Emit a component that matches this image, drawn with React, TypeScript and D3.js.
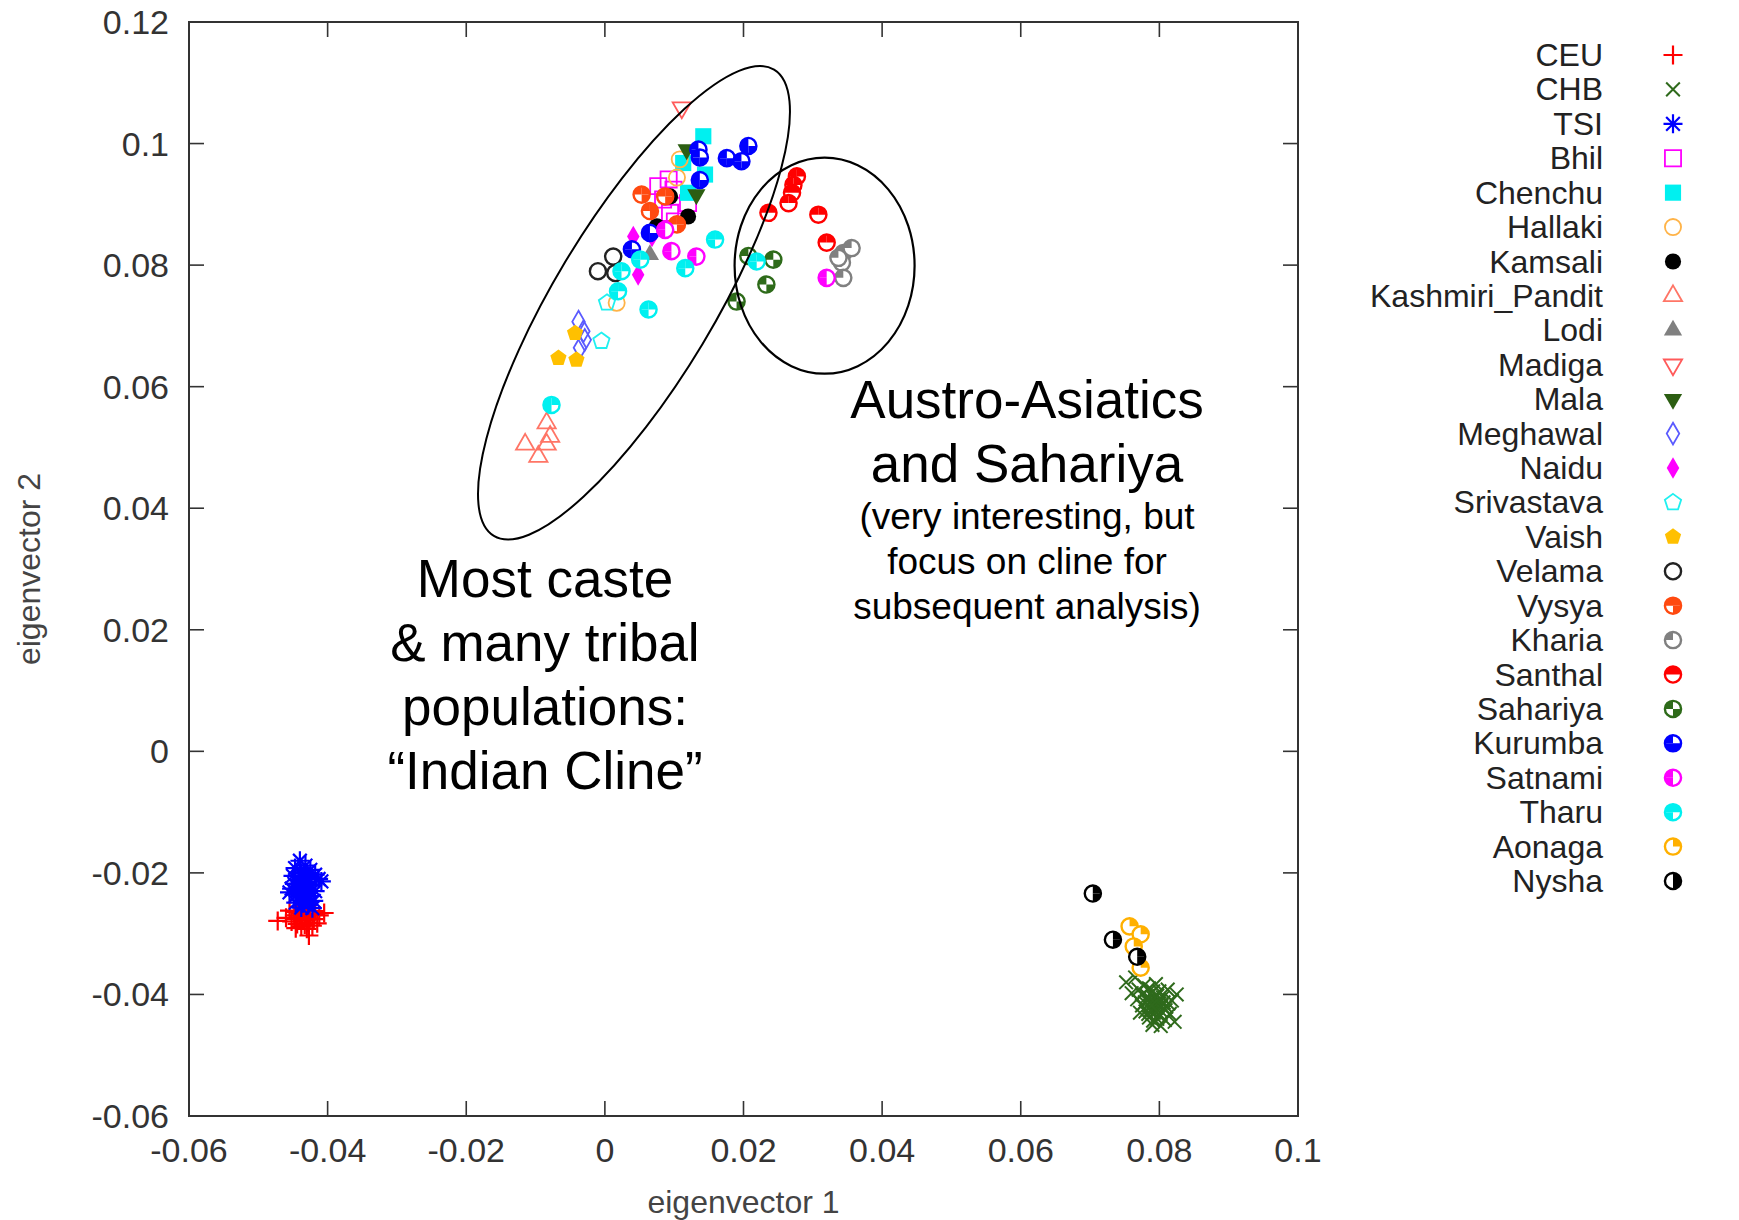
import { useMemo } from 'react';
import * as d3 from 'd3';

type Pt = [number, number];

// axis ticks
const X_TICKS = [-0.06, -0.04, -0.02, 0, 0.02, 0.04, 0.06, 0.08, 0.1];
const Y_TICKS = [-0.06, -0.04, -0.02, 0, 0.02, 0.04, 0.06, 0.08, 0.1, 0.12];

// population samples (eigenvector 1, eigenvector 2)
const ceu: Pt[] = [
  [-0.0472, -0.0279], [-0.0455, -0.0262], [-0.0448, -0.027], [-0.044, -0.0266], [-0.0432, -0.0272],
  [-0.0425, -0.0268], [-0.0418, -0.0263], [-0.0452, -0.028], [-0.0444, -0.0284], [-0.0436, -0.0278],
  [-0.0428, -0.0282], [-0.042, -0.0276], [-0.0412, -0.027], [-0.0446, -0.0291], [-0.0438, -0.0288],
  [-0.043, -0.0292], [-0.0422, -0.0287], [-0.0427, -0.0303], [-0.046, -0.0274], [-0.0415, -0.0283],
  [-0.0434, -0.026], [-0.0442, -0.0256], [-0.0405, -0.0266], [-0.0448, -0.0276], [-0.0433, -0.0285],
  [-0.0441, -0.0273], [-0.0426, -0.0275], [-0.0437, -0.0269], [-0.0419, -0.0269], [-0.0445, -0.0264],
];
const chb: Pt[] = [
  [0.0752, -0.038], [0.0765, -0.0372], [0.0778, -0.0385], [0.077, -0.0392], [0.0785, -0.039],
  [0.0795, -0.0383], [0.076, -0.0398], [0.0775, -0.04], [0.0788, -0.0398], [0.08, -0.0395],
  [0.0812, -0.0392], [0.0768, -0.0408], [0.0782, -0.041], [0.0792, -0.0406], [0.0805, -0.0405],
  [0.0818, -0.041], [0.0775, -0.0418], [0.0786, -0.042], [0.0798, -0.0416], [0.081, -0.042],
  [0.078, -0.0428], [0.0792, -0.043], [0.0803, -0.0428], [0.0815, -0.0432], [0.0785, -0.0438],
  [0.0797, -0.044], [0.0808, -0.0442], [0.079, -0.045], [0.0802, -0.0452], [0.0822, -0.0445],
  [0.0772, -0.043], [0.0825, -0.04], [0.0795, -0.0422], [0.0788, -0.0412], [0.08, -0.041],
  [0.0783, -0.0403], [0.0791, -0.0395], [0.0797, -0.0402], [0.0806, -0.0413], [0.0794, -0.0414],
  [0.0779, -0.0413], [0.0787, -0.0426], [0.0799, -0.0434], [0.0809, -0.0426], [0.0791, -0.0443],
  [0.0803, -0.0419], [0.0784, -0.0432], [0.0796, -0.0428], [0.0813, -0.0415], [0.0789, -0.0418],
];
const tsi: Pt[] = [
  [-0.044, -0.018], [-0.0432, -0.0188], [-0.0447, -0.0192], [-0.0425, -0.0195], [-0.0438, -0.02],
  [-0.0418, -0.0203], [-0.045, -0.0205], [-0.043, -0.0208], [-0.0442, -0.0212], [-0.0413, -0.021],
  [-0.0435, -0.0216], [-0.0448, -0.0218], [-0.0424, -0.022], [-0.044, -0.0224], [-0.043, -0.0228],
  [-0.0452, -0.0226], [-0.0418, -0.023], [-0.0437, -0.0233], [-0.0445, -0.0236], [-0.0426, -0.0238],
  [-0.0433, -0.0242], [-0.0441, -0.0245], [-0.042, -0.0246], [-0.0435, -0.025], [-0.0428, -0.0253],
  [-0.0446, -0.0249], [-0.0409, -0.0214], [-0.0455, -0.0232], [-0.0438, -0.0257], [-0.0422, -0.0258],
  [-0.0434, -0.0204], [-0.0428, -0.0217], [-0.0443, -0.0229], [-0.0431, -0.0236], [-0.0439, -0.0219],
];
const bhil: Pt[] = [
  [0.0077, 0.093], [0.0092, 0.0941], [0.0099, 0.0924], [0.0084, 0.0908], [0.0094, 0.0886],
  [0.012, 0.0902], [0.0101, 0.0872],
];
const chenchu: Pt[] = [[0.0142, 0.1012], [0.01445, 0.0949], [0.0113, 0.0968], [0.012, 0.0919]];
const hallaki: Pt[] = [[0.0108, 0.0974], [0.0104, 0.0944], [0.0017, 0.0738]];
const kamsali: Pt[] = [[0.0094, 0.0913], [0.012, 0.088], [0.0075, 0.0864]];
const kashmiriPandit: Pt[] = [
  [-0.0084, 0.054], [-0.0079, 0.0518], [-0.0115, 0.0505], [-0.0084, 0.0505], [-0.0096, 0.0485],
];
const lodi: Pt[] = [[0.0065, 0.0817]];
const madiga: Pt[] = [[0.0111, 0.1059]];
const mala: Pt[] = [[0.0118, 0.099], [0.0132, 0.0916]];
const meghawal: Pt[] = [[-0.0038, 0.0707], [-0.0031, 0.0691], [-0.0036, 0.0664], [-0.0029, 0.0677]];
const naidu: Pt[] = [[0.0041, 0.0847], [0.0048, 0.0784], [0.0068, 0.0847]];
const srivastava: Pt[] = [[0.0003, 0.0738], [-0.0005, 0.0675]];
const vaish: Pt[] = [[-0.0043, 0.0688], [-0.0067, 0.0647], [-0.0041, 0.0644]];
const velama: Pt[] = [[-0.001, 0.079], [0.0012, 0.0814], [0.0015, 0.0787]];
const vysya: Pt[] = [[0.0053, 0.0916], [0.0065, 0.0889], [0.0087, 0.0913], [0.0104, 0.0867]];
const kharia: Pt[] = [[0.0344, 0.082], [0.0356, 0.0828], [0.0342, 0.0804], [0.0344, 0.0779], [0.0337, 0.0812]];
const santhal: Pt[] = [
  [0.0277, 0.0946], [0.0272, 0.0932], [0.027, 0.0919], [0.0265, 0.0902], [0.0236, 0.0886],
  [0.0308, 0.0883], [0.032, 0.0837],
];
const sahariya: Pt[] = [[0.0207, 0.0815], [0.0243, 0.0809], [0.0233, 0.0768], [0.019, 0.074]];
const kurumba: Pt[] = [
  [0.0135, 0.099], [0.0137, 0.0977], [0.0137, 0.094], [0.0176, 0.0976], [0.0207, 0.0996],
  [0.0197, 0.0971], [0.0065, 0.0853], [0.0039, 0.0826],
];
const satnami: Pt[] = [[0.0096, 0.0823], [0.0132, 0.0814], [0.0087, 0.0858], [0.032, 0.0779]];
const tharu: Pt[] = [
  [0.0159, 0.0842], [0.0116, 0.0795], [0.0063, 0.0727], [0.0051, 0.0809], [0.0024, 0.079],
  [0.0019, 0.0757], [0.0219, 0.0806], [-0.0077, 0.057],
];
const aonaga: Pt[] = [[0.0757, -0.0288], [0.0773, -0.0301], [0.0763, -0.0321], [0.0773, -0.0356]];
const nysha: Pt[] = [[0.0704, -0.0234], [0.0733, -0.031], [0.0768, -0.0338]];

const POPULATIONS = [
  'CEU', 'CHB', 'TSI', 'Bhil', 'Chenchu', 'Hallaki', 'Kamsali', 'Kashmiri_Pandit', 'Lodi', 'Madiga',
  'Mala', 'Meghawal', 'Naidu', 'Srivastava', 'Vaish', 'Velama', 'Vysya', 'Kharia', 'Santhal',
  'Sahariya', 'Kurumba', 'Satnami', 'Tharu', 'Aonaga', 'Nysha',
];

const SERIES: Record<string, Pt[]> = {
  CEU: ceu, CHB: chb, TSI: tsi, Bhil: bhil, Chenchu: chenchu, Hallaki: hallaki, Kamsali: kamsali,
  Kashmiri_Pandit: kashmiriPandit, Lodi: lodi, Madiga: madiga, Mala: mala, Meghawal: meghawal,
  Naidu: naidu, Srivastava: srivastava, Vaish: vaish, Velama: velama, Vysya: vysya, Kharia: kharia,
  Santhal: santhal, Sahariya: sahariya, Kurumba: kurumba, Satnami: satnami, Tharu: tharu,
  Aonaga: aonaga, Nysha: nysha,
};

// marker styles (gnuplot-like point types); quads: filled quarters of a ringed circle
type Style = { shape: string; color: string; quads?: number[] };
const STYLE: Record<string, Style> = {
  CEU: { shape: 'plus', color: '#ff0000' },
  CHB: { shape: 'cross', color: '#2f6a1c' },
  TSI: { shape: 'star', color: '#0000ff' },
  Bhil: { shape: 'squareOpen', color: '#ff00ff' },
  Chenchu: { shape: 'square', color: '#00f0f0' },
  Hallaki: { shape: 'circleOpen', color: '#ffb347' },
  Kamsali: { shape: 'circle', color: '#000000' },
  Kashmiri_Pandit: { shape: 'triUpOpen', color: '#ff7566' },
  Lodi: { shape: 'triUp', color: '#808080' },
  Madiga: { shape: 'triDownOpen', color: '#ff5a5a' },
  Mala: { shape: 'triDown', color: '#2c5e12' },
  Meghawal: { shape: 'diamondOpen', color: '#5a5aff' },
  Naidu: { shape: 'diamond', color: '#ff00ff' },
  Srivastava: { shape: 'pentOpen', color: '#20f0f0' },
  Vaish: { shape: 'pent', color: '#ffc000' },
  Velama: { shape: 'quad', color: '#222222', quads: [] },
  Vysya: { shape: 'quad', color: '#ff4a10', quads: [0, 1, 3] },
  Kharia: { shape: 'quad', color: '#808080', quads: [3] },
  Santhal: { shape: 'quad', color: '#ff0000', quads: [0, 3] },
  Sahariya: { shape: 'quad', color: '#2e6b1a', quads: [1, 3] },
  Kurumba: { shape: 'quad', color: '#0000ff', quads: [1, 2, 3] },
  Satnami: { shape: 'quad', color: '#ff00ff', quads: [2, 3] },
  Tharu: { shape: 'quad', color: '#00f0f0', quads: [0, 2, 3] },
  Aonaga: { shape: 'quad', color: '#ffb000', quads: [0] },
  Nysha: { shape: 'quad', color: '#000000', quads: [0, 1] },
};

const W = 1739;
const H = 1220;
const margin = { top: 22, right: 441, bottom: 104, left: 189 };
const FONT = '"Liberation Sans", Arial, Helvetica, sans-serif';

const arc = d3.arc<any>();
const pentagon = (r: number) =>
  d3.line()(d3.range(5).map((k) => {
    const a = -Math.PI / 2 + (k * 2 * Math.PI) / 5;
    return [r * Math.cos(a), r * Math.sin(a)] as [number, number];
  })) + 'Z';

function Marker({ name, cx, cy, r }: { name: string; cx: number; cy: number; r: number }) {
  const { shape, color, quads } = STYLE[name];
  const t = `translate(${cx},${cy})`;
  const open = { fill: 'none', stroke: color, strokeWidth: 1.8 };
  const solid = { fill: color, stroke: 'none' };
  const k = r * 0.72;
  switch (shape) {
    case 'plus':
      return <path transform={t} d={`M${-r},0H${r}M0,${-r}V${r}`} stroke={color} strokeWidth={2.2} />;
    case 'cross':
      return <path transform={t} d={`M${-k},${-k}L${k},${k}M${-k},${k}L${k},${-k}`} stroke={color} strokeWidth={2} />;
    case 'star':
      return (
        <path transform={t} d={`M${-r},0H${r}M0,${-r}V${r}M${-k},${-k}L${k},${k}M${-k},${k}L${k},${-k}`}
          stroke={color} strokeWidth={2.2} />
      );
    case 'squareOpen':
    case 'square':
      return <path transform={t} d={d3.symbol(d3.symbolSquare, (r * 1.7) ** 2)()!} {...(shape === 'square' ? solid : open)} />;
    case 'circleOpen':
    case 'circle':
      return <circle cx={cx} cy={cy} r={r * 0.85} {...(shape === 'circle' ? solid : open)} />;
    case 'triUpOpen':
    case 'triUp':
      return <path transform={t} d={d3.symbol(d3.symbolTriangle, r * r * 1.6)()!} {...(shape === 'triUp' ? solid : open)} />;
    case 'triDownOpen':
    case 'triDown':
      return <path transform={`${t} rotate(180)`} d={d3.symbol(d3.symbolTriangle, r * r * 1.6)()!} {...(shape === 'triDown' ? solid : open)} />;
    case 'diamondOpen':
    case 'diamond':
      return <path transform={t} d={d3.symbol(d3.symbolDiamond, r * r * 1.5)()!} {...(shape === 'diamond' ? solid : open)} />;
    case 'pentOpen':
    case 'pent':
      return <path transform={t} d={pentagon(r * 0.9)} {...(shape === 'pent' ? solid : open)} />;
    default: {
      const rr = r * 0.85;
      return (
        <g transform={t}>
          <circle r={rr} fill="#fff" stroke={color} strokeWidth={2.4} />
          {(quads || []).map((q) => (
            <path key={q} fill={color}
              d={arc({ innerRadius: 0, outerRadius: rr, startAngle: (q * Math.PI) / 2, endAngle: ((q + 1) * Math.PI) / 2 })!} />
          ))}
        </g>
      );
    }
  }
}

export default function App() {
  const x = useMemo(() => d3.scaleLinear().domain([-0.06, 0.1]).range([margin.left, W - margin.right]), []);
  const y = useMemo(() => d3.scaleLinear().domain([-0.06, 0.12]).range([H - margin.bottom, margin.top]), []);
  const legendY = useMemo(() => d3.scalePoint<string>().domain(POPULATIONS).range([55, 881]), []);
  const fmt = (v: number) => String(+v.toFixed(2));
  const x0 = x.range()[0], x1 = x.range()[1], y0 = y.range()[0], y1 = y.range()[1];
  const tick = 15;

  return (
    <div style={{ position: 'absolute', left: 0, top: 0 }}>
      <svg width={W} height={H} style={{ display: 'block', background: '#fff' }} fontFamily={FONT}>
        {/* ticks */}
        <g stroke="#333" strokeWidth={1.6}>
          {X_TICKS.map((v) => (
            <g key={'x' + v}>
              <line x1={x(v)} x2={x(v)} y1={y0} y2={y0 - tick} />
              <line x1={x(v)} x2={x(v)} y1={y1} y2={y1 + tick} />
            </g>
          ))}
          {Y_TICKS.map((v) => (
            <g key={'y' + v}>
              <line x1={x0} x2={x0 + tick} y1={y(v)} y2={y(v)} />
              <line x1={x1} x2={x1 - tick} y1={y(v)} y2={y(v)} />
            </g>
          ))}
        </g>
        <rect x={x0} y={y1} width={x1 - x0} height={y0 - y1} fill="none" stroke="#333" strokeWidth={2} />

        {/* tick labels */}
        <g fontSize={34} fill="#333">
          {X_TICKS.map((v) => (
            <text key={'xl' + v} x={x(v)} y={y0 + 46} textAnchor="middle">{fmt(v)}</text>
          ))}
          {Y_TICKS.map((v) => (
            <text key={'yl' + v} x={x0 - 20} y={y(v) + 12} textAnchor="end">{fmt(v)}</text>
          ))}
        </g>
        <text x={(x0 + x1) / 2} y={1213} textAnchor="middle" fontSize={32} fill="#444">eigenvector 1</text>
        <text transform={`translate(40,${(y0 + y1) / 2}) rotate(-90)`} textAnchor="middle" fontSize={32} fill="#444">
          eigenvector 2
        </text>

        {/* points */}
        {POPULATIONS.map((name) => (
          <g key={name}>
            {SERIES[name].map((d, i) => (
              <Marker key={i} name={name} cx={x(d[0])} cy={y(d[1])} r={9.5} />
            ))}
          </g>
        ))}

        {/* annotation ellipses */}
        <ellipse cx={x(0.0042)} cy={y(0.0738)} rx={272} ry={80} transform={`rotate(-59 ${x(0.0042)} ${y(0.0738)})`}
          fill="none" stroke="#000" strokeWidth={2} />
        <ellipse cx={x(0.0317)} cy={y(0.0799)} rx={90} ry={108} fill="none" stroke="#000" strokeWidth={2.2} />

        {/* annotation text */}
        <g textAnchor="middle" fill="#000">
          <g fontSize={53}>
            <text x={545} y={597}>Most caste</text>
            <text x={545} y={661}>&amp; many tribal</text>
            <text x={545} y={725}>populations:</text>
            <text x={545} y={789}>“Indian Cline”</text>
            <text x={1027} y={418}>Austro-Asiatics</text>
            <text x={1027} y={482}>and Sahariya</text>
          </g>
          <g fontSize={37}>
            <text x={1027} y={529}>(very interesting, but</text>
            <text x={1027} y={574}>focus on cline for</text>
            <text x={1027} y={619}>subsequent analysis)</text>
          </g>
        </g>

        {/* legend */}
        <g fontSize={32} fill="#222">
          {POPULATIONS.map((name) => (
            <g key={'lg' + name}>
              <text x={1603} y={legendY(name)! + 11} textAnchor="end">{name}</text>
              <Marker name={name} cx={1673} cy={legendY(name)!} r={9.5} />
            </g>
          ))}
        </g>
      </svg>
    </div>
  );
}
